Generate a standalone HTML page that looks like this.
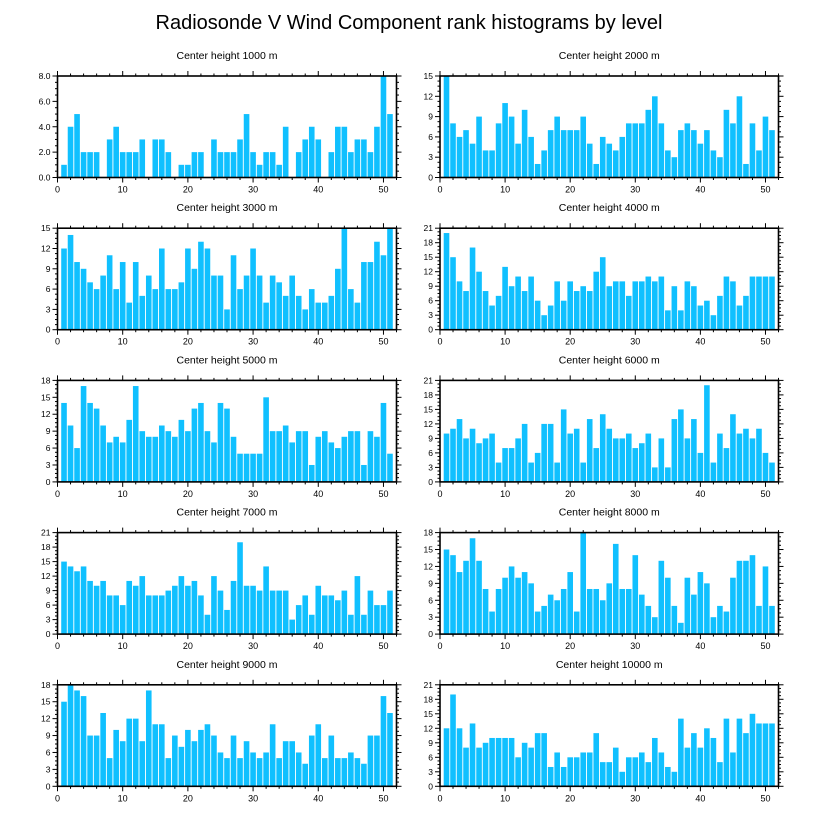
<!DOCTYPE html>
<html><head><meta charset="utf-8">
<style>
html,body{margin:0;padding:0;background:#fff;}
svg{display:block;font-family:"Liberation Sans",sans-serif;}
</style></head>
<body>
<svg id="chart" width="818" height="824" viewBox="0 0 818 824" xmlns="http://www.w3.org/2000/svg">
<rect width="818" height="824" fill="#fff"/>
<text x="409" y="29" text-anchor="middle" font-size="20">Radiosonde V Wind Component rank histograms by level</text>
</svg>
<script>
const titles = ["Center height 1000 m","Center height 2000 m","Center height 3000 m","Center height 4000 m","Center height 5000 m","Center height 6000 m","Center height 7000 m","Center height 8000 m","Center height 9000 m","Center height 10000 m"];
const yMaxes = [8,15,15,21,18,21,21,18,18,21];
const yStepsMajor = [2,3,3,3,3,3,3,3,3,3];
const xTicks = [0,10,20,30,40,50];
const h1000 = [1,4,5,2,2,2,0,3,4,2,2,2,3,0,3,3,2,0,1,1,2,2,0,3,2,2,2,3,5,2,1,2,2,1,4,0,2,3,4,3,0,2,4,4,2,3,3,2,4,8,5];
const h2000 = [15,8,6,7,5,9,4,4,8,11,9,5,10,6,2,4,7,9,7,7,7,9,5,2,6,5,4,6,8,8,8,10,12,8,4,3,7,8,7,5,7,4,3,10,8,12,2,8,4,9,7];
const h3000 = [12,14,10,9,7,6,8,11,6,10,4,10,5,8,6,12,6,6,7,12,9,13,12,8,8,3,11,6,8,12,8,4,8,7,5,8,5,3,6,4,4,5,9,15,6,4,10,10,13,11,15];
const h4000 = [20,15,10,8,17,12,8,5,7,13,9,11,8,11,6,3,5,10,6,10,8,9,8,12,15,9,10,10,7,10,10,11,10,11,4,9,4,10,9,5,6,3,7,11,10,5,7,11,11,11,11];
const h5000 = [14,10,6,17,14,13,10,7,8,7,11,17,9,8,8,10,9,8,11,9,13,14,9,7,14,13,8,5,5,5,5,15,9,9,10,7,9,9,3,8,9,7,6,8,9,9,3,9,8,14,5];
const h6000 = [10,11,13,9,11,8,9,10,4,7,7,9,12,4,6,12,12,4,15,10,11,4,13,7,14,11,9,9,10,7,8,10,3,9,3,13,15,9,13,6,20,4,10,7,14,10,11,9,11,6,4];
const h7000 = [15,14,13,14,11,10,11,8,8,6,11,10,12,8,8,8,9,10,12,10,11,8,4,12,9,5,11,19,10,10,9,14,9,9,9,3,6,8,4,10,8,8,7,9,4,12,4,9,6,6,9];
const h8000 = [15,14,11,13,17,13,8,4,8,10,12,10,11,9,4,5,7,6,8,11,4,18,8,8,6,9,16,8,8,14,7,5,3,13,10,5,2,10,7,11,9,3,5,4,10,13,13,14,5,12,5];
const h9000 = [15,18,17,16,9,9,13,5,10,8,12,12,8,17,11,11,5,9,7,10,8,10,11,9,6,5,9,5,8,6,5,6,11,5,8,8,6,4,9,11,5,9,5,5,6,5,4,9,9,16,13];
const h10000 = [12,19,12,8,13,8,9,10,10,10,10,6,9,8,11,11,4,7,4,6,6,7,7,11,5,5,8,3,6,6,7,5,10,7,4,3,14,8,11,8,12,10,5,14,7,14,11,15,13,13,13];
const series = [h1000,h2000,h3000,h4000,h5000,h6000,h7000,h8000,h9000,h10000];

const NS = "http://www.w3.org/2000/svg";
const svg = document.getElementById('chart');
function mk(tag, attrs, parent){const e=document.createElementNS(NS,tag);for(const k in attrs)e.setAttribute(k,attrs[k]);(parent||svg).appendChild(e);return e;}

const XMAX = 52;
series.forEach((vals, p) => {
  const col = p % 2, row = Math.floor(p / 2);
  const L = col ? 440 : 57.5, R = col ? 778.5 : 396.5;
  const T = 76 + row * 152.2, B = T + 101.5;
  const g = mk('g', {});
  
  
  const xs = v => L + (R - L) * v / XMAX;
  const ys = v => B - (B - T) * v / yMaxes[p];
  const t = mk('text', {x:(L+R)/2, y:T-17, 'text-anchor':'middle', 'font-size':10.5}, g);
  t.textContent = titles[p];
  
  
  vals.forEach((v, i) => {
    if (v <= 0) return;
    const x = i + 1;
    const r = mk('rect', {x:xs(x-0.43), y:ys(v), width:xs(0.86)-xs(0), height:ys(0)-ys(v), fill:'#10c0ff'}, g);
    
    
  });
  const fr = mk('rect', {x:L, y:T, width:R-L, height:B-T, fill:'none', stroke:'#000', 'stroke-width':1.6}, g);
  
  
  // x ticks
  for (let v = 0; v <= XMAX; v += 2) {
    const major = v % 10 === 0, len = major ? 5 : 2.5;
    mk('line', {x1:xs(v), x2:xs(v), y1:B, y2:B+len, stroke:'#000', 'stroke-width':1}, g);
    mk('line', {x1:xs(v), x2:xs(v), y1:T, y2:T-len, stroke:'#000', 'stroke-width':1}, g);
  }
  xTicks.forEach(v => {
    const tl = mk('text', {x:xs(v), y:B+15, 'text-anchor':'middle', 'font-size':9}, g);
    tl.textContent = v;
    
    
  });
  // y ticks
  const st = yStepsMajor[p], minor = st / 4;
  for (let v = 0; v <= yMaxes[p] + 1e-6; v += minor) {
    const major = Math.abs(v / st - Math.round(v / st)) < 1e-6, len = major ? 5 : 2.5;
    mk('line', {x1:L, x2:L-len, y1:ys(v), y2:ys(v), stroke:'#000', 'stroke-width':1}, g);
    mk('line', {x1:R, x2:R+len, y1:ys(v), y2:ys(v), stroke:'#000', 'stroke-width':1}, g);
  }
  for (let v = 0; v <= yMaxes[p]; v += st) {
    const yl = mk('text', {x:L-7, y:ys(v)+3, 'text-anchor':'end', 'font-size':8.5}, g);
    yl.textContent = p === 0 ? v.toFixed(1) : v;
    
    
  }
});
</script>
</body></html>
